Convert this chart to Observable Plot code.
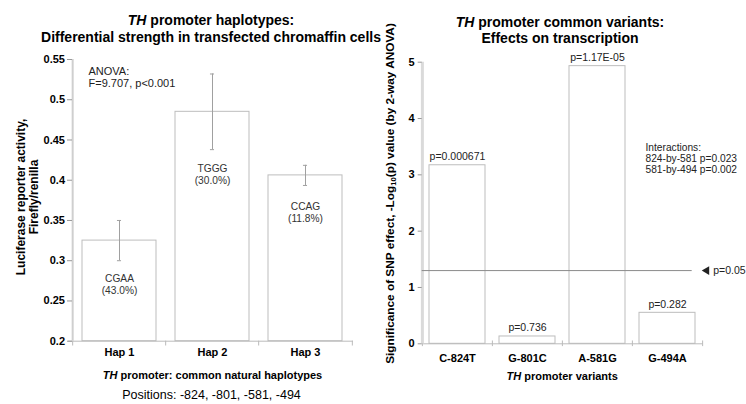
<!DOCTYPE html>
<html><head><meta charset="utf-8">
<script src="https://cdn.jsdelivr.net/npm/d3@7"></script>
<script src="https://cdn.jsdelivr.net/npm/@observablehq/plot@0.6"></script>
<style>
body{margin:0;background:#fff;}
#wrap{display:flex;width:746px;height:404px;overflow:hidden;background:#fff;}
#wrap svg{display:block;flex:none;}
</style></head><body><div id="wrap"></div>
<script>
// ---------- data: left panel ----------
const haplotypes = ["Hap 1", "Hap 2", "Hap 3"];
const hapMeans = [0.325, 0.485, 0.406];
const hapErrors = [0.025, 0.047, 0.0125];
const hapCodes = ["CGAA", "TGGG", "CCAG"];
const hapFreqs = ["(43.0%)", "(30.0%)", "(11.8%)"];
const leftTicks = [0.2, 0.25, 0.3, 0.35, 0.4, 0.45, 0.5, 0.55];
const leftTickLabels = ["0.2", "0.25", "0.3", "0.35", "0.4", "0.45", "0.5", "0.55"];
const anovaText = ["ANOVA:", "F=9.707, p<0.001"];

// ---------- data: right panel ----------
const variants = ["C-824T", "G-801C", "A-581G", "G-494A"];
const variantLogP = [3.17, 0.13, 4.93, 0.55];
const variantP = ["p=0.000671", "p=0.736", "p=1.17E-05", "p=0.282"];
const rightTicks = [0, 1, 2, 3, 4, 5];
const rightTickLabels = ["0", "1", "2", "3", "4", "5"];
const thresholdLogP = 1.3;
const thresholdLabel = "p=0.05";
const interactionText = ["Interactions:", "824-by-581 p=0.023", "581-by-494 p=0.002"];

// ---------- layout ----------
const FONT = "'Liberation Sans', Arial, Helvetica, sans-serif";
const hapLabelY = [0.2845, 0.4216, 0.3744];   // label anchor (in data units)
const anovaY = 0.5425;
const interactionY = 3.563;
const PI = 0.2, PO = 0.1;

const hapData = haplotypes.map((h, i) => ({
  hap: h, mean: hapMeans[i], lo: hapMeans[i] - hapErrors[i], hi: hapMeans[i] + hapErrors[i],
  label: hapCodes[i] + "\n" + hapFreqs[i], labelY: hapLabelY[i]
}));
const varData = variants.map((v, i) => ({v, logp: variantLogP[i], p: variantP[i]}));

function addText(svg, x, y, parts, {size = 12, weight = "bold", anchor = "middle", rotate = 0, fill = "#000"} = {}) {
  const t = d3.select(svg).append("text")
    .attr("transform", `translate(${x},${y})` + (rotate ? ` rotate(${rotate})` : ""))
    .attr("text-anchor", anchor).attr("font-size", size).attr("font-weight", weight)
    .attr("font-family", FONT).attr("fill", fill);
  for (const p of parts) {
    const o = typeof p === "string" ? {t: p} : p;
    const s = t.append("tspan").text(o.t);
    if (o.i) s.attr("font-style", "italic");
    if (o.sub) s.attr("font-size", size * 0.65).attr("dy", size * 0.25);
    if (o.unsub) s.attr("dy", -size * 0.25);
  }
}

// ---------- left panel ----------
const L = {width: 370, height: 404, mL: 72, mR: 17, mT: 59, mB: 63.3};
const stepL = (L.width - L.mL - L.mR) / (haplotypes.length - PI + 2 * PO);
const bwL = stepL * (1 - PI);
const capL = (bwL - 5) / 2;
const y0L = leftTicks[0];

const left = Plot.plot({
  width: L.width, height: L.height,
  marginLeft: L.mL, marginRight: L.mR, marginTop: L.mT, marginBottom: L.mB,
  style: {fontFamily: FONT, background: "none", overflow: "visible", position: "relative", zIndex: 2},
  x: {domain: haplotypes, paddingInner: PI, paddingOuter: PO, label: null},
  y: {domain: [leftTicks[0], leftTicks[leftTicks.length - 1]], label: null},
  marks: [
    Plot.barY(hapData, {x: "hap", y1: y0L, y2: "mean", fill: "white", stroke: "#bdbdbd"}),
    Plot.ruleX(hapData, {x: "hap", y1: "lo", y2: "hi", stroke: "#a0a0a0"}),
    Plot.tickY(hapData, {x: "hap", y: "hi", insetLeft: capL, insetRight: capL, stroke: "#a0a0a0"}),
    Plot.tickY(hapData, {x: "hap", y: "lo", insetLeft: capL, insetRight: capL, stroke: "#a0a0a0"}),
    Plot.ruleY([y0L], {stroke: "#bbb", insetLeft: -4}),
    Plot.ruleX(haplotypes, {dx: -stepL / 2, y1: y0L, y2: y0L - 0.006, stroke: "#bbb"}),
    Plot.ruleX([haplotypes[haplotypes.length - 1]], {dx: stepL / 2, y1: y0L, y2: y0L - 0.006, stroke: "#bbb"}),
    Plot.ruleX([haplotypes[0]], {dx: -stepL / 2, stroke: "#cfcfcf", strokeWidth: 2}),
    Plot.axisY(leftTicks, {tickSize: 5, tickPadding: 2.5, stroke: "#999", fill: "#000",
      fontSize: 11, fontWeight: "bold", label: null,
      tickFormat: d => leftTickLabels[leftTicks.indexOf(d)]}),
    Plot.axisX({tickSize: 0, tickPadding: 7, fontSize: 11, fontWeight: "bold", fill: "#000", label: null}),
    Plot.text(hapData, {x: "hap", y: "labelY", text: "label", lineAnchor: "top", fontSize: 10.2, lineHeight: 1.2, fill: "#333"}),
    Plot.text([anovaText.join("\n")], {frameAnchor: "left", y: anovaY, dx: 16, text: d => d,
      textAnchor: "start", lineAnchor: "top", fontSize: 11, lineHeight: 1.15, fill: "#222"})
  ]
});
addText(left, 211, 25, [{t: "TH", i: true}, " promoter haplotypes:"], {size: 14});
addText(left, 211, 41.7, ["Differential strength in transfected chromaffin cells"], {size: 14});
addText(left, 24.5, 197, ["Luciferase reporter activity,"], {size: 12, rotate: -90});
addText(left, 37.5, 197, ["Firefly/renilla"], {size: 12, rotate: -90});
addText(left, 212.5, 378.5, [{t: "TH", i: true}, " promoter: common natural haplotypes"], {size: 11});
addText(left, 211.5, 399, ["Positions: -824, -801, -581, -494"], {size: 12.5, weight: "normal"});

// ---------- right panel ----------
const R = {width: 376, height: 404, mL: 51.7, mR: 43.3, mT: 61.7, mB: 60.7};
const stepR = (R.width - R.mL - R.mR) / (variants.length - PI + 2 * PO);

const right = Plot.plot({
  width: R.width, height: R.height,
  marginLeft: R.mL, marginRight: R.mR, marginTop: R.mT, marginBottom: R.mB,
  style: {fontFamily: FONT, background: "none", overflow: "visible", position: "relative", zIndex: 1},
  x: {domain: variants, paddingInner: PI, paddingOuter: PO, label: null},
  y: {domain: [rightTicks[0], rightTicks[rightTicks.length - 1]], label: null},
  marks: [
    Plot.barY(varData, {x: "v", y: "logp", fill: "white", stroke: "#bdbdbd"}),
    Plot.ruleY([0], {stroke: "#bbb"}),
    Plot.ruleX(variants, {dx: -stepR / 2, y1: -0.05, y2: 0.05, stroke: "#bbb"}),
    Plot.ruleX([variants[variants.length - 1]], {dx: stepR / 2, y1: -0.05, y2: 0.05, stroke: "#bbb"}),
    Plot.ruleX([variants[0]], {dx: -stepR / 2, stroke: "#dadada", strokeWidth: 3}),
    Plot.ruleY([thresholdLogP], {stroke: "#8a8a8a", insetRight: 11}),
    Plot.dot([thresholdLogP], {y: d => d, frameAnchor: "right", dx: 3.5, symbol: "triangle", rotate: -90,
      r: 3.2, fill: "#222", stroke: "none"}),
    Plot.text([thresholdLogP], {y: d => d, frameAnchor: "right", dx: 10, textAnchor: "start",
      text: () => thresholdLabel, fontSize: 10.5, fill: "#222"}),
    Plot.axisY(rightTicks, {tickSize: 4, tickPadding: 3.5, stroke: "#999", fill: "#000",
      fontSize: 11, fontWeight: "bold", label: null,
      tickFormat: d => rightTickLabels[rightTicks.indexOf(d)]}),
    Plot.axisX({tickSize: 0, tickPadding: 10, fontSize: 11, fontWeight: "bold", fill: "#000", label: null}),
    Plot.text(varData, {x: "v", y: "logp", text: "p", lineAnchor: "bottom", dy: -5, fontSize: 10.5, fill: "#222"}),
    Plot.text([interactionText.join("\n")], {frameAnchor: "left", y: interactionY, dx: 223.3, text: d => d,
      textAnchor: "start", lineAnchor: "top", fontSize: 10.2, lineHeight: 1.08, fill: "#222"})
  ]
});
addText(right, 190, 27.3, [{t: "TH", i: true}, " promoter common variants:"], {size: 14});
addText(right, 190, 43.3, ["Effects on transcription"], {size: 14});
addText(right, 23.5, 193.5, ["Significance of SNP effect, -Log", {t: "10", sub: true}, {t: "(p) value (by 2-way ANOVA)", unsub: true}], {size: 11.8, rotate: -90});
addText(right, 192.2, 379.6, [{t: "TH", i: true}, " promoter variants"], {size: 11});

document.getElementById("wrap").append(left, right);
</script></body></html>
